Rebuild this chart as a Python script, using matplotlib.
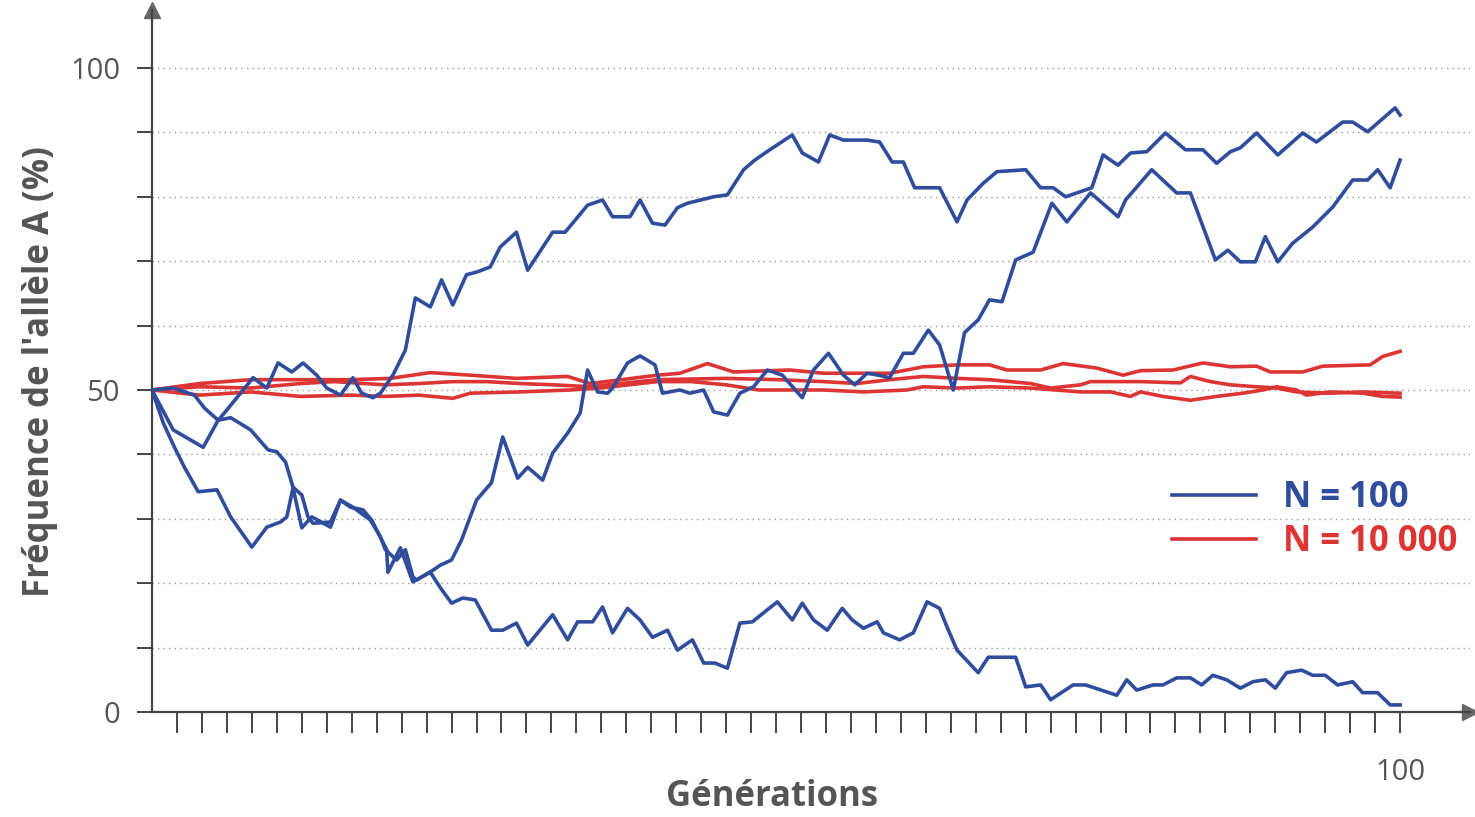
import matplotlib
matplotlib.use("Agg")
import matplotlib.pyplot as plt

plt.rcParams['font.family'] = ['Open Sans', 'DejaVu Sans']

# N = 100 : three runs (generation, frequency of allele A in %)
gen_b1 = [0, 1.7, 4.1, 5.3, 6.0, 8.1, 9.2, 10.1, 11.2, 12.1, 13.2, 14.0, 15.1, 16.1, 16.8,
          17.7, 18.3, 19.3, 20.3, 21.1, 22.3, 23.2, 24.1, 25.2, 26.0, 27.1, 27.9, 29.2, 30.1,
          32.1, 33.1, 34.9, 36.1, 36.9, 38.3, 39.1, 40.1, 41.1, 42.1, 42.9, 45.0, 46.1, 47.4,
          48.3, 49.5, 51.3, 52.1, 53.4, 54.3, 55.4, 57.3, 58.3, 59.3, 60.2, 61.1, 63.1, 64.5,
          65.3, 66.6, 67.7, 70.0, 71.2, 72.2, 73.2, 75.3, 76.2, 77.4, 78.4, 79.7, 81.2, 82.8,
          84.2, 85.3, 86.4, 87.2, 88.5, 90.2, 92.2, 93.3, 95.4, 96.2, 97.4, 99.6, 100]
freq_b1 = [50, 43.8, 41.1, 45.3, 46.9, 51.9, 50.3, 54.2, 52.8, 54.2, 52.3, 50.3, 49.2, 51.9, 49.5,
           48.8, 49.5, 52.3, 56.2, 64.3, 62.9, 67.1, 63.2, 67.9, 68.3, 69.1, 72.2, 74.5, 68.6,
           74.5, 74.5, 78.7, 79.5, 76.9, 76.9, 79.5, 75.9, 75.6, 78.3, 79.0, 80.0, 80.3, 84.2,
           85.7, 87.3, 89.6, 86.8, 85.4, 89.6, 88.8, 88.8, 88.5, 85.4, 85.4, 81.4, 81.4, 76.1,
           79.5, 82.1, 83.9, 84.2, 81.4, 81.4, 80.0, 81.4, 86.5, 84.9, 86.8, 87.0, 89.9, 87.3,
           87.3, 85.2, 87.0, 87.6, 89.9, 86.5, 89.9, 88.5, 91.6, 91.6, 90.1, 93.8, 92.7]

gen_b2 = [0, 1.7, 3.4, 4.2, 5.3, 6.3, 6.9, 7.9, 9.3, 10.0, 10.7, 11.3, 12.0, 12.5, 12.9, 14.3,
          15.1, 16.1, 17.5, 18.3, 18.7, 19.6, 20.3, 20.9, 21.2, 22.5, 23.1, 24.0, 24.8, 26.0,
          27.2, 28.1, 29.3, 30.1, 31.3, 32.1, 33.3, 34.3, 34.9, 35.7, 36.5, 36.9, 38.1, 39.1,
          40.3, 40.9, 42.3, 43.1, 44.2, 45.0, 46.1, 47.1, 48.2, 49.3, 50.5, 52.1, 53.0, 54.2,
          55.4, 56.3, 57.3, 58.2, 59.1, 60.2, 61.0, 62.2, 63.1, 64.2, 65.1, 66.2, 67.1, 68.1,
          69.2, 70.6, 72.1, 73.3, 75.2, 77.4, 78.0, 80.1, 82.1, 83.2, 85.2, 86.2, 87.2, 88.4,
          89.2, 90.2, 91.4, 93.0, 94.6, 96.2, 97.4, 98.2, 99.2, 100]
freq_b2 = [50, 50.3, 49.2, 47.2, 45.3, 45.7, 45.0, 43.8, 40.7, 40.4, 38.8, 34.9, 33.7, 30.3, 29.3,
           29.5, 32.9, 31.8, 29.8, 27.2, 25.2, 23.6, 25.2, 21.0, 20.5, 22.0, 22.8, 23.6, 26.7,
           32.9, 35.6, 42.7, 36.3, 38.0, 36.0, 40.2, 43.3, 46.4, 53.1, 49.7, 49.5, 50.3, 54.2,
           55.3, 53.9, 49.5, 50.0, 49.5, 50.0, 46.6, 46.1, 49.5, 50.5, 53.1, 52.3, 48.8, 53.1,
           55.7, 52.3, 50.8, 52.6, 52.3, 51.9, 55.7, 55.7, 59.3, 57.0, 50.0, 58.9, 60.9, 64.0,
           63.7, 70.2, 71.4, 79.0, 76.1, 80.6, 76.9, 79.5, 84.2, 80.6, 80.6, 70.2, 71.7, 69.9,
           69.9, 73.8, 69.9, 72.8, 75.3, 78.4, 82.6, 82.6, 84.2, 81.4, 85.7]

gen_b3 = [0, 0.9, 1.8, 2.6, 3.7, 5.2, 6.3, 8.0, 9.2, 10.3, 10.8, 11.3, 12.0, 12.8, 14.3, 15.1,
          15.9, 16.9, 17.6, 18.8, 18.9, 19.9, 20.9, 22.3, 23.1, 24.0, 24.9, 25.9, 27.2, 28.1,
          29.2, 30.1, 32.1, 33.3, 34.1, 35.3, 36.1, 36.9, 38.1, 39.1, 40.1, 41.3, 42.1, 43.3,
          44.2, 45.1, 46.1, 47.1, 48.1, 49.0, 50.1, 51.3, 52.1, 53.0, 54.1, 55.3, 56.1, 57.0,
          58.1, 58.6, 59.9, 61.0, 62.1, 63.1, 63.7, 64.5, 66.2, 67.0, 68.5, 69.2, 70.0, 71.2,
          72.0, 73.8, 74.8, 77.3, 78.1, 78.9, 80.2, 81.0, 82.1, 83.2, 84.1, 85.0, 86.1, 87.2,
          88.2, 89.2, 90.0, 90.9, 92.1, 93.0, 94.0, 95.0, 96.2, 97.0, 98.2, 99.2, 100]
freq_b3 = [50, 44.9, 41.1, 38.0, 34.2, 34.5, 30.3, 25.6, 28.7, 29.5, 30.3, 34.8, 28.6, 30.3, 28.7,
           32.9, 31.8, 31.4, 29.8, 25.2, 21.7, 25.5, 20.2, 21.7, 19.3, 16.9, 17.7, 17.4, 12.7,
           12.7, 13.8, 10.4, 15.1, 11.2, 14.0, 14.0, 16.3, 12.3, 16.1, 14.3, 11.6, 12.7, 9.6,
           11.2, 7.6, 7.6, 6.8, 13.8, 14.0, 15.4, 17.1, 14.3, 16.9, 14.3, 12.7, 16.1, 14.3, 13.0,
           14.0, 12.3, 11.2, 12.3, 17.1, 16.1, 13.2, 9.6, 6.1, 8.5, 8.5, 8.5, 3.9, 4.2, 1.9, 4.2,
           4.2, 2.6, 5.0, 3.4, 4.2, 4.2, 5.3, 5.3, 4.2, 5.7, 5.0, 3.7, 4.7, 5.0, 3.7, 6.1, 6.5,
           5.7, 5.7, 4.2, 4.7, 3.0, 3.0, 1.1, 1.1]

# N = 10 000 : three runs
gen_r1 = [0, 3.8, 7.9, 11.9, 15.9, 19.1, 22.3, 25.5, 29.2, 33.3, 35.1, 40.5, 42.3, 44.5, 46.6,
          51.1, 53.8, 56.5, 59.1, 61.8, 64.5, 67.1, 68.5, 71.2, 73.0, 75.7, 77.8, 79.2, 81.8,
          84.2, 86.4, 88.5, 89.6, 92.2, 93.8, 97.6, 98.6, 100]
freq_r1 = [50, 51.0, 51.6, 51.6, 51.6, 51.8, 52.7, 52.3, 51.8, 52.1, 51.0, 52.3, 52.6, 54.1, 52.8,
           53.1, 52.6, 52.6, 52.6, 53.6, 53.9, 53.9, 53.1, 53.1, 54.1, 53.4, 52.3, 53.0, 53.1,
           54.2, 53.6, 53.7, 52.8, 52.8, 53.7, 53.9, 55.2, 56.0]

gen_r2 = [0, 3.8, 7.9, 11.9, 14.6, 18.7, 21.4, 24.1, 26.8, 29.5, 32.2, 35.1, 40.5, 46.0, 50.2,
          53.8, 56.5, 59.1, 61.8, 64.5, 67.1, 70.4, 72.0, 74.4, 75.2, 79.2, 82.4, 83.2, 84.8,
          86.4, 88.5, 90.1, 91.7, 94.4, 97.0, 100]
freq_r2 = [50, 50.5, 50.3, 51.0, 51.3, 50.8, 51.0, 51.3, 51.3, 51.0, 50.8, 50.5, 51.6, 51.8, 51.6,
           51.3, 51.0, 51.6, 52.1, 51.8, 51.6, 51.0, 50.3, 50.8, 51.3, 51.3, 51.1, 52.1, 51.3,
           50.8, 50.5, 50.3, 49.7, 49.5, 49.7, 49.5]

gen_r3 = [0, 3.8, 7.9, 11.9, 15.9, 18.7, 21.4, 24.1, 25.5, 29.5, 33.5, 35.9, 40.5, 43.2, 46.0,
          48.6, 53.8, 57.0, 60.5, 61.8, 64.5, 67.1, 70.4, 74.4, 76.8, 78.4, 79.2, 81.0, 83.2,
          85.3, 87.4, 89.0, 90.1, 91.7, 92.5, 94.4, 97.0, 98.6, 100]
freq_r3 = [50, 49.2, 49.7, 49.0, 49.2, 49.0, 49.2, 48.7, 49.5, 49.7, 50.0, 50.3, 51.3, 51.3, 50.8,
           50.0, 50.0, 49.7, 50.0, 50.5, 50.3, 50.5, 50.3, 49.7, 49.7, 49.0, 49.7, 49.0, 48.4,
           49.0, 49.5, 50.0, 50.5, 50.0, 49.2, 49.7, 49.5, 49.0, 48.9]

blue = '#2f4d9c'
red = '#dd3434'
grey = '#555555'

fig = plt.figure(figsize=(14.75, 8.17), dpi=100)
ax = fig.add_axes([152 / 1475, 105 / 817, 1318 / 1475, 702 / 817])

for g, f in [(gen_r1, freq_r1), (gen_r2, freq_r2), (gen_r3, freq_r3)]:
    ax.plot(g, f, color=red, lw=2.6, solid_joinstyle='round', zorder=3)
for g, f in [(gen_b1, freq_b1), (gen_b2, freq_b2), (gen_b3, freq_b3)]:
    ax.plot(g, f, color=blue, lw=2.6, solid_joinstyle='round', zorder=4)

ax.set_xlim(0, 105.6)
ax.set_ylim(0, 109)

ax.spines['top'].set_visible(False)
ax.spines['right'].set_visible(False)
for s in ['left', 'bottom']:
    ax.spines[s].set_color('#444444')
    ax.spines[s].set_linewidth(1.6)
ax.plot(1, 0, '>', color='#666666', ms=11, transform=ax.transAxes, clip_on=False)
ax.plot(0, 1, '^', color='#666666', ms=11, transform=ax.transAxes, clip_on=False)

yt = list(range(0, 101, 10))
ax.set_yticks(yt)
ax.set_yticklabels([str(v) if v in (0, 50, 100) else '' for v in yt])
xt = list(range(2, 101, 2))
ax.set_xticks(xt)
ax.set_xticklabels(['100' if v == 100 else '' for v in xt])
ax.tick_params(axis='y', direction='out', length=11, width=1.4, color='#444444',
               labelsize=21, labelcolor=grey, pad=12)
ax.tick_params(axis='x', direction='out', length=15, width=1.4, color='#444444',
               labelsize=21, labelcolor=grey, pad=18)

ax.yaxis.grid(True, linestyle=(0, (1, 3)), color='#999999', lw=1)
ax.set_axisbelow(True)

fig.text(40 / 1475, 1 - 372 / 817, "Fréquence de l'allèle A (%)", rotation=90,
         ha='center', va='center', fontsize=25, fontweight='bold', color='#555555')
fig.text(772 / 1475, 1 - 797 / 817, 'Générations', ha='center', va='center',
         fontsize=25, fontweight='bold', color='#555555')

h1, = ax.plot([], [], color=blue, lw=2.6)
h2, = ax.plot([], [], color=red, lw=2.6)
leg = ax.legend([h1, h2], ['N = 100', 'N = 10 000'], loc='center left',
                bbox_to_anchor=(1155 / 1475, 1 - 520 / 817), bbox_transform=fig.transFigure,
                frameon=False, fontsize=25, handlelength=2.4, handletextpad=0.8,
                labelspacing=0.25, borderpad=0)
for t, c in zip(leg.get_texts(), [blue, red]):
    t.set_color(c)
    t.set_fontweight('bold')

fig.savefig('out.png', dpi=100)
